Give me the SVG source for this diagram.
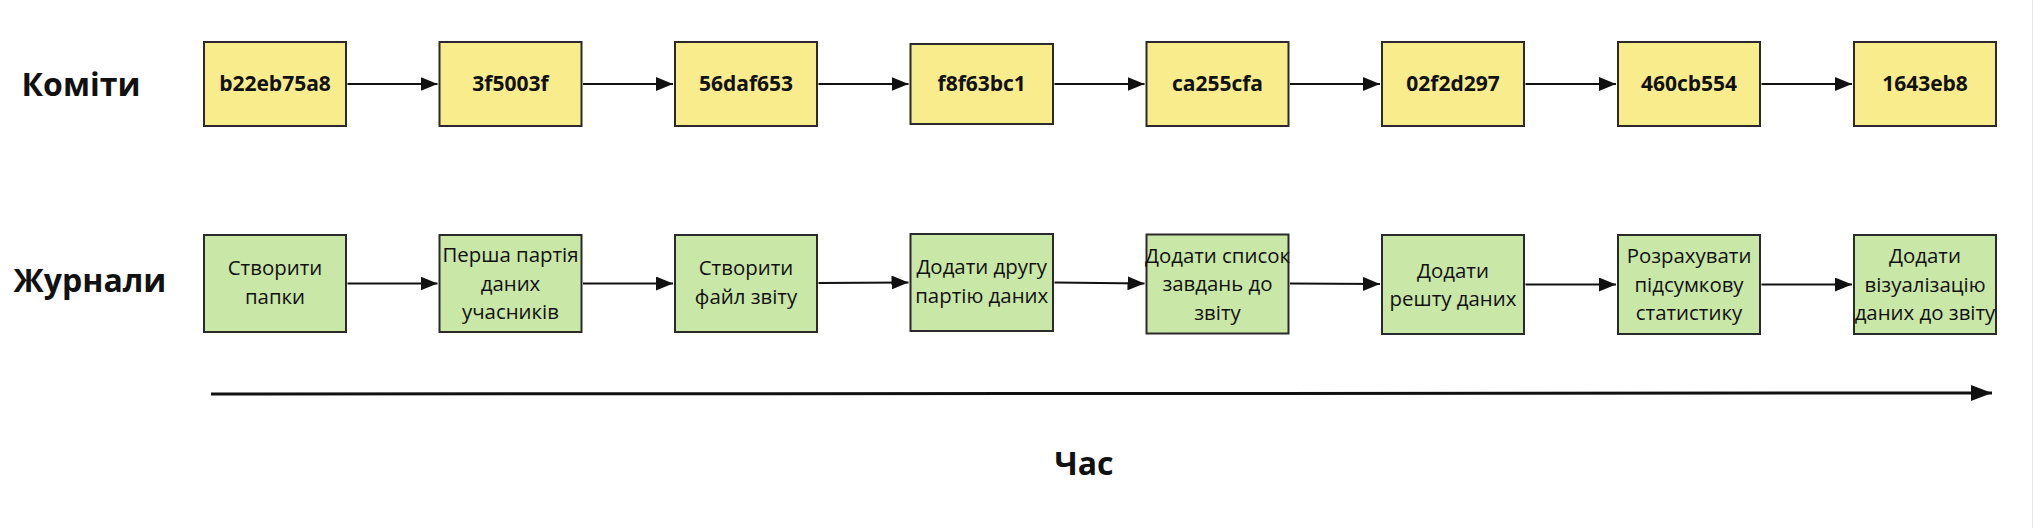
<svg xmlns="http://www.w3.org/2000/svg" width="2033" height="528" viewBox="0 0 2033 528">
<style>
text{font-family:"Open Sans","Noto Sans","DejaVu Sans",sans-serif;fill:#111;text-anchor:middle}
.title{font-size:32px;font-weight:700}
.hash{font-size:21px;font-weight:700}
.log{font-size:20.4px}
.commit rect{fill:#f8ec8c;stroke:#2a2a2a;stroke-width:2}
.entry rect{fill:#c9e7a7;stroke:#2a2a2a;stroke-width:2}
.conn{stroke:#111;stroke-width:2.2;fill:none;marker-end:url(#ah)}
.time{stroke:#111;stroke-width:3;fill:none;marker-end:url(#ahb)}
</style>
<defs>
<marker id="ah" markerUnits="userSpaceOnUse" markerWidth="18" markerHeight="14" refX="17" refY="7" orient="auto">
<path d="M0,0 L17,7 L0,14 Z" fill="#111"/>
</marker>
<marker id="ahb" markerUnits="userSpaceOnUse" markerWidth="22" markerHeight="16" refX="21" refY="8" orient="auto">
<path d="M0,0 L21,8 L0,16 Z" fill="#111"/>
</marker>
</defs>
<rect width="2033" height="528" fill="#ffffff"/>
<line x1="2032.5" y1="0" x2="2032.5" y2="528" stroke="#e6e6e6" stroke-width="1"/>

<g id="label-commits"><text class="title" x="81" y="96">Коміти</text></g>
<g id="label-logs"><text class="title" x="90" y="292">Журнали</text></g>
<g id="label-time"><text class="title" x="1084" y="475">Час</text></g>

<g id="commit-1" class="commit"><rect x="204" y="42" width="142" height="84"/><text class="hash" x="275" y="91">b22eb75a8</text></g>
<g id="commit-2" class="commit"><rect x="439.5" y="42" width="142" height="84"/><text class="hash" x="510.5" y="91">3f5003f</text></g>
<g id="commit-3" class="commit"><rect x="675" y="42" width="142" height="84"/><text class="hash" x="746" y="91">56daf653</text></g>
<g id="commit-4" class="commit"><rect x="910.5" y="44" width="142.5" height="80"/><text class="hash" x="981.7" y="91">f8f63bc1</text></g>
<g id="commit-5" class="commit"><rect x="1146.5" y="42" width="142" height="84"/><text class="hash" x="1217.5" y="91">ca255cfa</text></g>
<g id="commit-6" class="commit"><rect x="1382" y="42" width="142" height="84"/><text class="hash" x="1453" y="91">02f2d297</text></g>
<g id="commit-7" class="commit"><rect x="1618" y="42" width="142" height="84"/><text class="hash" x="1689" y="91">460cb554</text></g>
<g id="commit-8" class="commit"><rect x="1854" y="42" width="142" height="84"/><text class="hash" x="1925" y="91">1643eb8</text></g>

<g id="log-1" class="entry"><rect x="204" y="235" width="142" height="97"/>
<text class="log" x="275" y="275">Створити</text><text class="log" x="275" y="303.5">папки</text></g>
<g id="log-2" class="entry"><rect x="439.5" y="235" width="142" height="97"/>
<text class="log" x="510.5" y="262">Перша партія</text><text class="log" x="510.5" y="290.5">даних</text><text class="log" x="510.5" y="319">учасників</text></g>
<g id="log-3" class="entry"><rect x="675" y="235" width="142" height="97"/>
<text class="log" x="746" y="275">Створити</text><text class="log" x="746" y="303.5">файл звіту</text></g>
<g id="log-4" class="entry"><rect x="910.5" y="234" width="142.5" height="97"/>
<text class="log" x="981.7" y="274">Додати другу</text><text class="log" x="981.7" y="302.5">партію даних</text></g>
<g id="log-5" class="entry"><rect x="1146.5" y="234.5" width="142" height="99"/>
<text class="log" x="1217.5" y="262.5">Додати список</text><text class="log" x="1217.5" y="291">завдань до</text><text class="log" x="1217.5" y="319.5">звіту</text></g>
<g id="log-6" class="entry"><rect x="1382" y="235" width="142" height="99"/>
<text class="log" x="1453" y="277.5">Додати</text><text class="log" x="1453" y="306">решту даних</text></g>
<g id="log-7" class="entry"><rect x="1618" y="235" width="142" height="99"/>
<text class="log" x="1689" y="263">Розрахувати</text><text class="log" x="1689" y="291.5">підсумкову</text><text class="log" x="1689" y="320">статистику</text></g>
<g id="log-8" class="entry"><rect x="1854" y="235" width="142" height="99"/>
<text class="log" x="1925" y="263">Додати</text><text class="log" x="1925" y="291.5">візуалізацію</text><text class="log" x="1925" y="320">даних до звіту</text></g>

<g id="connectors">
<line class="conn" x1="347.5" y1="84" x2="437.5" y2="84"/>
<line class="conn" x1="583" y1="84" x2="673" y2="84"/>
<line class="conn" x1="818.5" y1="84" x2="908.5" y2="84"/>
<line class="conn" x1="1054.5" y1="84" x2="1144.5" y2="84"/>
<line class="conn" x1="1290" y1="84" x2="1380" y2="84"/>
<line class="conn" x1="1525.5" y1="84" x2="1616" y2="84"/>
<line class="conn" x1="1761.5" y1="84" x2="1852" y2="84"/>
<line class="conn" x1="347.5" y1="283.5" x2="437.5" y2="283.5"/>
<line class="conn" x1="583" y1="283.5" x2="673" y2="283.5"/>
<line class="conn" x1="818.5" y1="283" x2="908.5" y2="282.5"/>
<line class="conn" x1="1054.5" y1="282.5" x2="1144.5" y2="283.5"/>
<line class="conn" x1="1290" y1="283.5" x2="1380" y2="284"/>
<line class="conn" x1="1525.5" y1="284.5" x2="1616" y2="284.5"/>
<line class="conn" x1="1761.5" y1="284.5" x2="1852" y2="284.5"/>
<line class="time" x1="211" y1="394" x2="1992" y2="393"/>
</g>
</svg>
